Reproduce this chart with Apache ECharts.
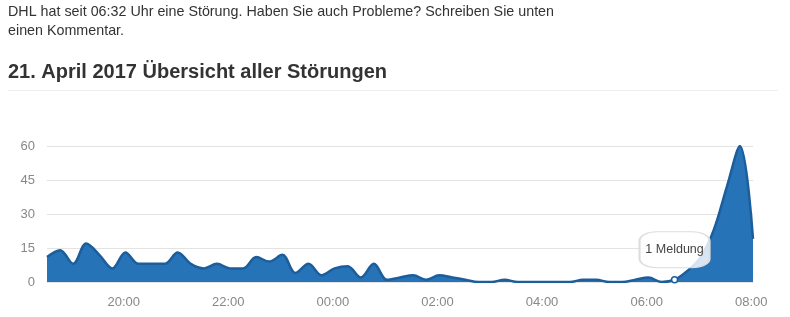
<!DOCTYPE html>
<html><head><meta charset="utf-8">
<script src="https://cdn.jsdelivr.net/npm/echarts@6/dist/echarts.min.js"></script>
<style>html,body{margin:0;padding:0;background:#fff;}#c{width:790px;height:317px;}</style>
</head><body><div id="c"></div>
<script>
var introLine1 = 'DHL hat seit 06:32 Uhr eine Störung. Haben Sie auch Probleme? Schreiben Sie unten';
var introLine2 = 'einen Kommentar.';
var heading = '21. April 2017 Übersicht aller Störungen';
var times = ['18:32','18:47','19:02','19:17','19:32','19:47','20:02','20:17','20:32','20:47',
 '21:02','21:17','21:32','21:47','22:02','22:17','22:32','22:47','23:02','23:17','23:32','23:47',
 '00:02','00:17','00:32','00:47','01:02','01:17','01:32','01:47','02:02','02:17','02:32','02:47',
 '03:02','03:17','03:32','03:47','04:02','04:17','04:32','04:47','05:02','05:17','05:32','05:47',
 '06:02','06:17','06:32','06:47','07:02','07:17','07:32','07:47','08:02'];
var reports = [11,14,8,17,12,6,13,8,8,8,
 13,8,6,8,6,6,11,9,12,4,8,3,
 6,7,2,8,1,2,3,1,3,2,1,0,
 0,1,0,0,0,0,0,1,1,0,0,1,
 2,0,1,5,11,23,42,60,19];
var xTickLabels = ['20:00','22:00','00:00','02:00','04:00','06:00','08:00'];
var yTicks = [0,15,30,45,60];
var highlightTime = '06:32';

// minutes since 18:00 on 20 April 2017
function toMin(t){
  var p = t.split(':'), h = +p[0], m = +p[1];
  if (h < 12) h += 24;
  return (h - 18) * 60 + m;
}
function fmt(v){
  var total = Math.round(v) + 18*60;
  var h = Math.floor(total/60) % 24, m = total % 60;
  return ('0'+h).slice(-2)+':'+('0'+m).slice(-2);
}
var seriesData = times.map(function(t,i){ return [toMin(t), reports[i]]; });
var hiIdx = times.indexOf(highlightTime);
var hiPoint = seriesData[hiIdx];

var chart = echarts.init(document.getElementById('c'), null, {renderer:'canvas'});
chart.setOption({
  animation:false,
  textStyle:{fontFamily:'Liberation Sans, Arial, sans-serif'},
  graphic:[
    {type:'text', left:8, top:5, style:{text:introLine1, fontSize:14.3, fill:'#333', fontFamily:'Liberation Sans, Arial'}},
    {type:'text', left:8, top:24, style:{text:introLine2, fontSize:14.3, fill:'#333', fontFamily:'Liberation Sans, Arial'}},
    {type:'text', left:8, top:62, style:{text:heading, fontSize:20, fontWeight:'bold', fill:'#333', fontFamily:'Liberation Sans, Arial'}},
    {type:'line', shape:{x1:8,y1:90.5,x2:778,y2:90.5}, style:{stroke:'#eeeeee', lineWidth:1}}
  ],
  grid:{left:47, right:37, top:146, bottom:35},
  xAxis:{
    type:'value',
    min: seriesData[0][0], max: seriesData[seriesData.length-1][0],
    axisLine:{show:false}, axisTick:{show:false}, splitLine:{show:false},
    axisLabel:{
      customValues: xTickLabels.map(toMin),
      formatter: fmt,
      color:'#888', fontSize:13, margin:14
    }
  },
  yAxis:{
    type:'value', min:yTicks[0], max:yTicks[yTicks.length-1], interval:15,
    axisLine:{show:false}, axisTick:{show:false},
    axisLabel:{color:'#888', fontSize:13, margin:12},
    splitLine:{lineStyle:{color:'#e3e3e3', width:1}}
  },
  series:[{
    type:'line', data:seriesData, smooth:0.35, showSymbol:false,
    lineStyle:{color:'#1c5d9c', width:2.5},
    areaStyle:{color:'#2673b7', opacity:1},
    markPoint:{
      silent:true,
      data:[
        {coord:hiPoint, value:hiPoint[1], symbol:'roundRect', symbolSize:[70,36], symbolOffset:[0,-30],
         itemStyle:{color:'rgba(255,255,255,0.82)', borderColor:'#dddddd', borderWidth:1.5},
         label:{show:true, position:'inside', formatter:function(p){return p.value+' Meldung';}, color:'#444', fontSize:12.5}},
        {coord:hiPoint, symbol:'circle', symbolSize:6,
         itemStyle:{color:'#ffffff', borderColor:'#1c5d9c', borderWidth:1.5}, label:{show:false}}
      ]
    }
  }]
});
</script></body></html>
